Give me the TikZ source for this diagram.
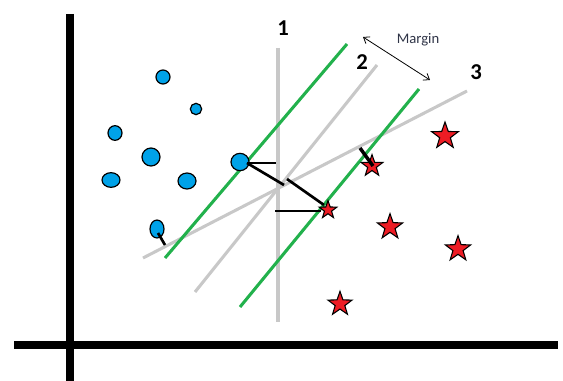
\documentclass[tikz,border=0pt]{standalone}
\usepackage{fontspec}
\setmainfont{Carlito}
\usetikzlibrary{shapes.geometric,arrows.meta}
\definecolor{ptblue}{HTML}{00A2E8}
\definecolor{ptred}{HTML}{ED1C24}
\definecolor{ptgreen}{HTML}{22B14C}
\definecolor{ptgray}{HTML}{C8C8C8}
\definecolor{margtext}{HTML}{2F3447}
\tikzset{
  dot/.style={ellipse,draw=black,line width=0.9pt,fill=ptblue,inner sep=0pt},
  starnode/.style={star,star points=5,star point ratio=2.5,draw=black,line width=0.8pt,fill=ptred,inner sep=0pt,minimum size=#1},
  axis/.style={line width=6pt,black},
  hyper/.style={line width=2.3pt,ptgray},
  margline/.style={line width=2.3pt,ptgreen},
  dist/.style={line width=2pt,black},
  lab/.style={font=\bfseries\fontsize{17}{17}\selectfont},
}
\begin{document}
\begin{tikzpicture}[x=0.75pt,y=-0.75pt]
\useasboundingbox (0,0) rectangle (563,381);
% axes
\coordinate (yt) at (70,14); \coordinate (yb) at (70,381);
\coordinate (xl) at (14,345); \coordinate (xr) at (558,345);
\draw[axis] (yt) -- (yb);
\draw[axis] (xl) -- (xr);
% hyperplanes
\coordinate (h1a) at (278,48); \coordinate (h1b) at (278,322);
\coordinate (h2a) at (377,65); \coordinate (h2b) at (195,292);
\coordinate (h3a) at (467,91); \coordinate (h3b) at (143,258);
\draw[hyper] (h1a) -- (h1b);
\draw[hyper] (h2a) -- (h2b);
\draw[hyper] (h3a) -- (h3b);
% margin lines
\coordinate (g1a) at (347,44); \coordinate (g1b) at (165,258);
\coordinate (g2a) at (419,89); \coordinate (g2b) at (240,307);
\draw[margline] (g1a) -- (g1b);
\draw[margline] (g2a) -- (g2b);
% circles
\node[dot,minimum width=10.5pt,minimum height=10.5pt] (c1) at (163,77) {};
\node[dot,minimum width=8.5pt,minimum height=8.5pt] (c2) at (196,109) {};
\node[dot,minimum width=10.5pt,minimum height=11pt] (c3) at (115,133) {};
\node[dot,minimum width=13.5pt,minimum height=13.5pt] (c4) at (151,157) {};
\node[dot,minimum width=13.5pt,minimum height=11pt] (c5) at (111,180) {};
\node[dot,minimum width=13.5pt,minimum height=12pt] (c6) at (187,181) {};
\node[dot,minimum width=10.5pt,minimum height=13.5pt] (c7) at (157,229) {};
\node[dot,minimum width=13.5pt,minimum height=13pt] (c8) at (240,162) {};
% stars
\node[starnode=21pt] (s1) at (445,136) {};
\node[starnode=17pt] (s2) at (372,166) {};
\node[starnode=14pt] (s3) at (328,210) {};
\node[starnode=20pt] (s4) at (390,227) {};
\node[starnode=20pt] (s5) at (458,249) {};
\node[starnode=19pt] (s6) at (340,304) {};
% distance segments
\coordinate (d1) at (276,163);
\coordinate (d2a) at (247,163); \coordinate (d2b) at (284,185);
\coordinate (d3a) at (287,179); \coordinate (d3b) at (324,205);
\coordinate (d4) at (275,211); \coordinate (d4b) at (321,211);
\coordinate (d5a) at (158,233); \coordinate (d5b) at (165,245);
\coordinate (d6a) at (360,148); \coordinate (d6b) at (373,166);
\draw[dist] (d2a) -- (d1);
\draw[dist] (d2a) -- (d2b);
\draw[dist] (d3a) -- (d3b);
\draw[dist] (d4) -- (d4b);
\draw[dist] (d5a) -- (d5b);
\draw[dist,line width=2.6pt] (d6a) -- (d6b);
% margin arrow
\coordinate (ma) at (363,37); \coordinate (mb) at (430,80);
\draw[line width=0.6pt,{Straight Barb[length=4pt,width=6pt]}-{Straight Barb[length=4pt,width=6pt]}] (ma) -- (mb);
\node[font=\fontsize{11}{11}\selectfont,text=margtext] (mt) at (418,40) {Margin};
% labels
\node[lab] (l1) at (283,28) {1};
\node[lab] (l2) at (362,62) {2};
\node[lab] (l3) at (476,72) {3};
\end{tikzpicture}
\end{document}
